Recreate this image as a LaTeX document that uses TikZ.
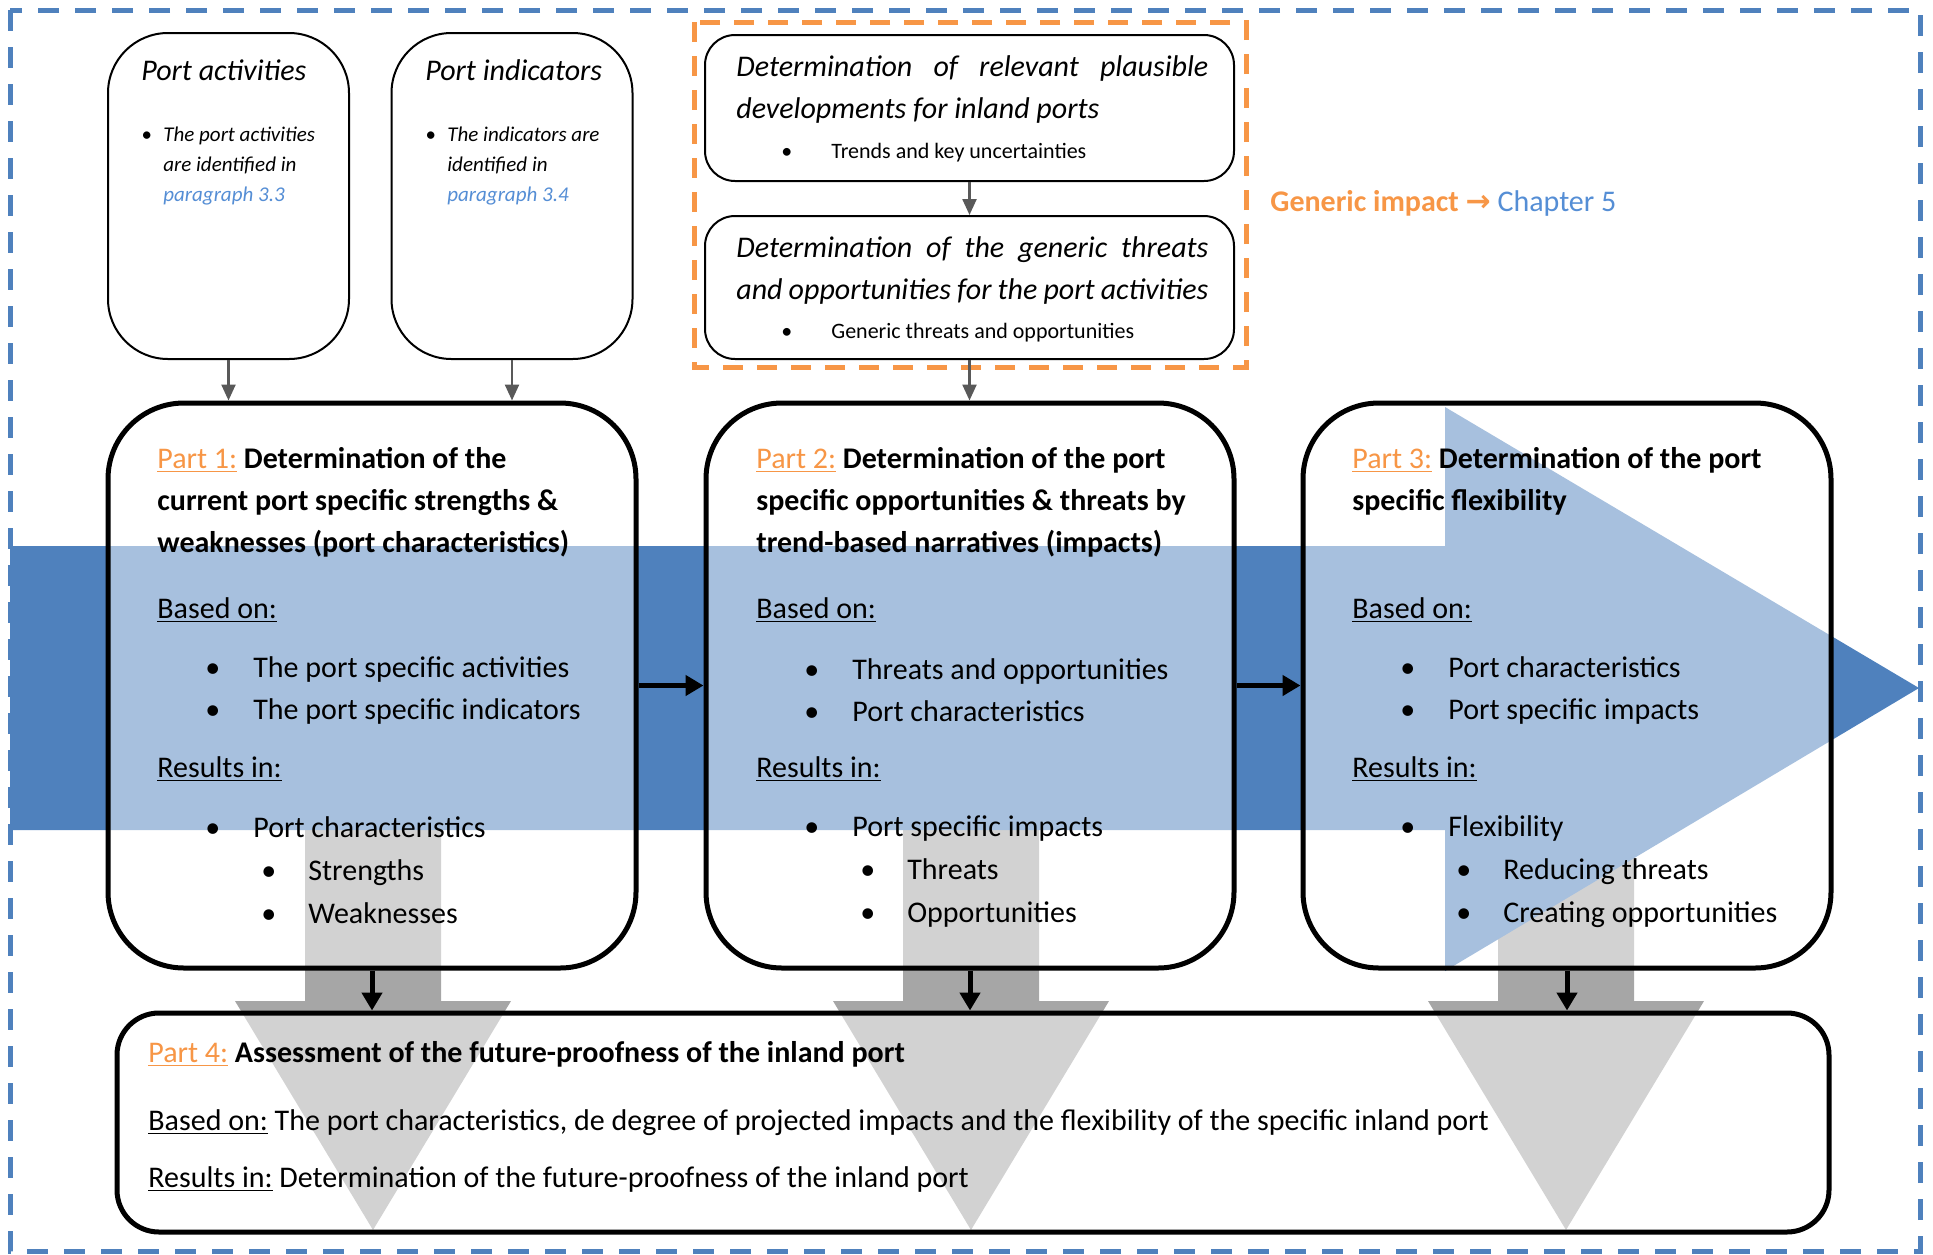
\documentclass[tikz,border=0pt]{standalone}
\usepackage{fontspec}
\setmainfont{Carlito}
\newfontfamily\symfont{DejaVu Sans}
\usetikzlibrary{arrows.meta}

\definecolor{flowblue}{HTML}{4F81BD}
\definecolor{accent}{HTML}{F79646}
\definecolor{linkblue}{HTML}{558ED5}
\definecolor{shaftgray}{HTML}{A6A6A6}
\definecolor{pointer}{HTML}{595959}

\newcommand\bul{\makebox[24pt][l]{\textbullet}}
\newcommand\subbul{\hspace*{28pt}\makebox[23.5pt][l]{\textbullet}}
\newcommand\smallbul{\makebox[11pt][l]{\textbullet}}
\newcommand\partlbl[1]{{\mdseries\color{accent}\underline{#1}}}

\tikzset{
  partbox/.style={draw, line width=2.5pt, rounded corners=38pt, fill=white, fill opacity=0.5,
    minimum width=264pt, minimum height=282.5pt, inner sep=0pt},
  infobox/.style={draw, line width=1pt, rounded corners=30pt, fill=white,
    minimum width=120.5pt, minimum height=163pt, inner sep=0pt},
  detbox/.style={draw, line width=1pt, rounded corners=15pt, fill=white,
    minimum width=264.5pt, inner sep=0pt},
  txt/.style={anchor=west, inner sep=0pt, align=left, font=\fontsize{15}{21}\selectfont},
  headtxt/.style={txt, font=\bfseries\fontsize{15}{21}\selectfont},
  smalltxt/.style={txt, font=\itshape\fontsize{10.5}{15}\selectfont},
  feed/.style={draw=pointer, line width=1.2pt, -{Triangle[length=8pt,width=7pt]}},
  flow/.style={line width=2.5pt, -{Triangle[length=9pt,width=10pt]}}
}

\begin{document}
\begin{tikzpicture}[x=0.5pt, y=-0.5pt]
  \useasboundingbox (0,0) rectangle (1933,1254);

  % background arrows
  \foreach \c in {373,971,1566}
    \fill[shaftgray] ({\c-68},830) -- ({\c+68},830) -- ({\c+68},1001) -- ({\c+138},1001)
      -- (\c,1230) -- ({\c-138},1001) -- ({\c-68},1001) -- cycle;
  \fill[flowblue] (10,546) -- (1445,546) -- (1445,407) -- (1919,688) -- (1445,971)
    -- (1445,830) -- (10,830) -- cycle;

  % frames
  \draw[flowblue, line width=2.5pt, dash pattern=on 10.5pt off 8pt] (10,10) rectangle (1920,1251);

  % boxes
  \node[infobox] (act) at (228.5,196) {};
  \node[infobox] (ind) at (512,196) {};
  \node[detbox, minimum height=73pt] (det1) at (969.5,108) {};
  \node[detbox, minimum height=71.5pt] (det2) at (969.5,287.5) {};
  \draw[accent, line width=2.5pt, dash pattern=on 10pt off 7pt] (694,22) rectangle (1246,367);

  \node[partbox] (part1) at (372,685.5) {};
  \node[partbox] (part2) at (970,685.5) {};
  \node[partbox] (part3) at (1567,685.5) {};
  \node[partbox, rounded corners=21pt, minimum width=856pt, minimum height=109.5pt] (part4) at (973,1122.5) {};

  % top texts
  \node[txt, font=\itshape\fontsize{15}{21}\selectfont] (acttitle) at (141,70) {Port activities};
  \node[smalltxt] (actlist) at (141,166) {\smallbul The port activities\\\hspace*{11pt}are identified in\\\hspace*{11pt}\textcolor{linkblue}{paragraph 3.3}};
  \node[txt, font=\itshape\fontsize{15}{21}\selectfont] (indtitle) at (425,70) {Port indicators};
  \node[smalltxt] (indlist) at (425,166) {\smallbul The indicators are\\\hspace*{11pt}identified in\\\hspace*{11pt}\textcolor{linkblue}{paragraph 3.4}};

  \node[txt, align=justify, text width=236pt, font=\itshape\fontsize{15}{21}\selectfont] (det1text) at (736,89)
    {Determination of relevant plausible\linebreak developments for inland ports};
  \node[txt, font=\fontsize{11}{14}\selectfont] (det1list) at (781,153) {\makebox[25pt][l]{\textbullet}Trends and key uncertainties};
  \node[txt, align=justify, text width=236pt, font=\itshape\fontsize{15}{21}\selectfont] (det2text) at (736,270)
    {Determination of the generic threats\linebreak and opportunities for the port activities};
  \node[txt, font=\fontsize{11}{14}\selectfont] (det2list) at (781,333) {\makebox[25pt][l]{\textbullet}Generic threats and opportunities};

  \node[txt] (generic) at (1270,203) {\textcolor{accent}{\textbf{Generic impact} {\symfont\bfseries →}} \textcolor{linkblue}{Chapter 5}};

  % part 1
  \node[headtxt] (p1head) at (157,502) {\partlbl{Part 1:} Determination of the\\current port specific strengths \&\\weaknesses (port characteristics)};
  \node[txt] (p1based) at (157,610) {\underline{Based on:}};
  \node[txt] (p1in) at (205,690) {\bul The port specific activities\\\bul The port specific indicators};
  \node[txt] (p1res) at (157,769) {\underline{Results in:}};
  \node[txt, font=\fontsize{15}{21.5}\selectfont] (p1out) at (205,870) {\bul Port characteristics\\\subbul Strengths\\\subbul Weaknesses};

  % part 2
  \node[headtxt] (p2head) at (756,502) {\partlbl{Part 2:} Determination of the port\\specific opportunities \& threats by\\trend-based narratives (impacts)};
  \node[txt] (p2based) at (756,610) {\underline{Based on:}};
  \node[txt] (p2in) at (804,690) {\bul Threats and opportunities\\\bul Port characteristics};
  \node[txt] (p2res) at (756,769) {\underline{Results in:}};
  \node[txt, font=\fontsize{15}{21.5}\selectfont] (p2out) at (804,872) {\bul Port specific impacts\\\subbul Threats\\\subbul Opportunities};

  % part 3
  \node[headtxt] (p3head) at (1352,481) {\partlbl{Part 3:} Determination of the port\\specific flexibility};
  \node[txt] (p3based) at (1352,610) {\underline{Based on:}};
  \node[txt] (p3in) at (1400,690) {\bul Port characteristics\\\bul Port specific impacts};
  \node[txt] (p3res) at (1352,769) {\underline{Results in:}};
  \node[txt, font=\fontsize{15}{21.5}\selectfont] (p3out) at (1400,872) {\bul Flexibility\\\subbul Reducing threats\\\subbul Creating opportunities};

  % part 4
  \node[headtxt] (p4head) at (148,1054) {\partlbl{Part 4:} Assessment of the future-proofness of the inland port};
  \node[txt] (p4based) at (148,1123) {\underline{Based on:} The port characteristics, de degree of projected impacts and the flexibility of the specific inland port};
  \node[txt] (p4res) at (148,1179) {\underline{Results in:} Determination of the future-proofness of the inland port};

  % connectors
  \draw[feed] (act.south) -- (act.south |- part1.north);
  \draw[feed] (ind.south) -- (ind.south |- part1.north);
  \draw[feed] (det1) -- (det2);
  \draw[feed] (det2.south) -- (det2.south |- part2.north);

  \draw[flow] (part1) -- (part2);
  \draw[flow] (part2) -- (part3);
  \draw[flow] (part1.south) -- (part1.south |- part4.north);
  \draw[flow] (part2.south) -- (part2.south |- part4.north);
  \draw[flow] (part3.south) -- (part3.south |- part4.north);

\end{tikzpicture}
\end{document}
